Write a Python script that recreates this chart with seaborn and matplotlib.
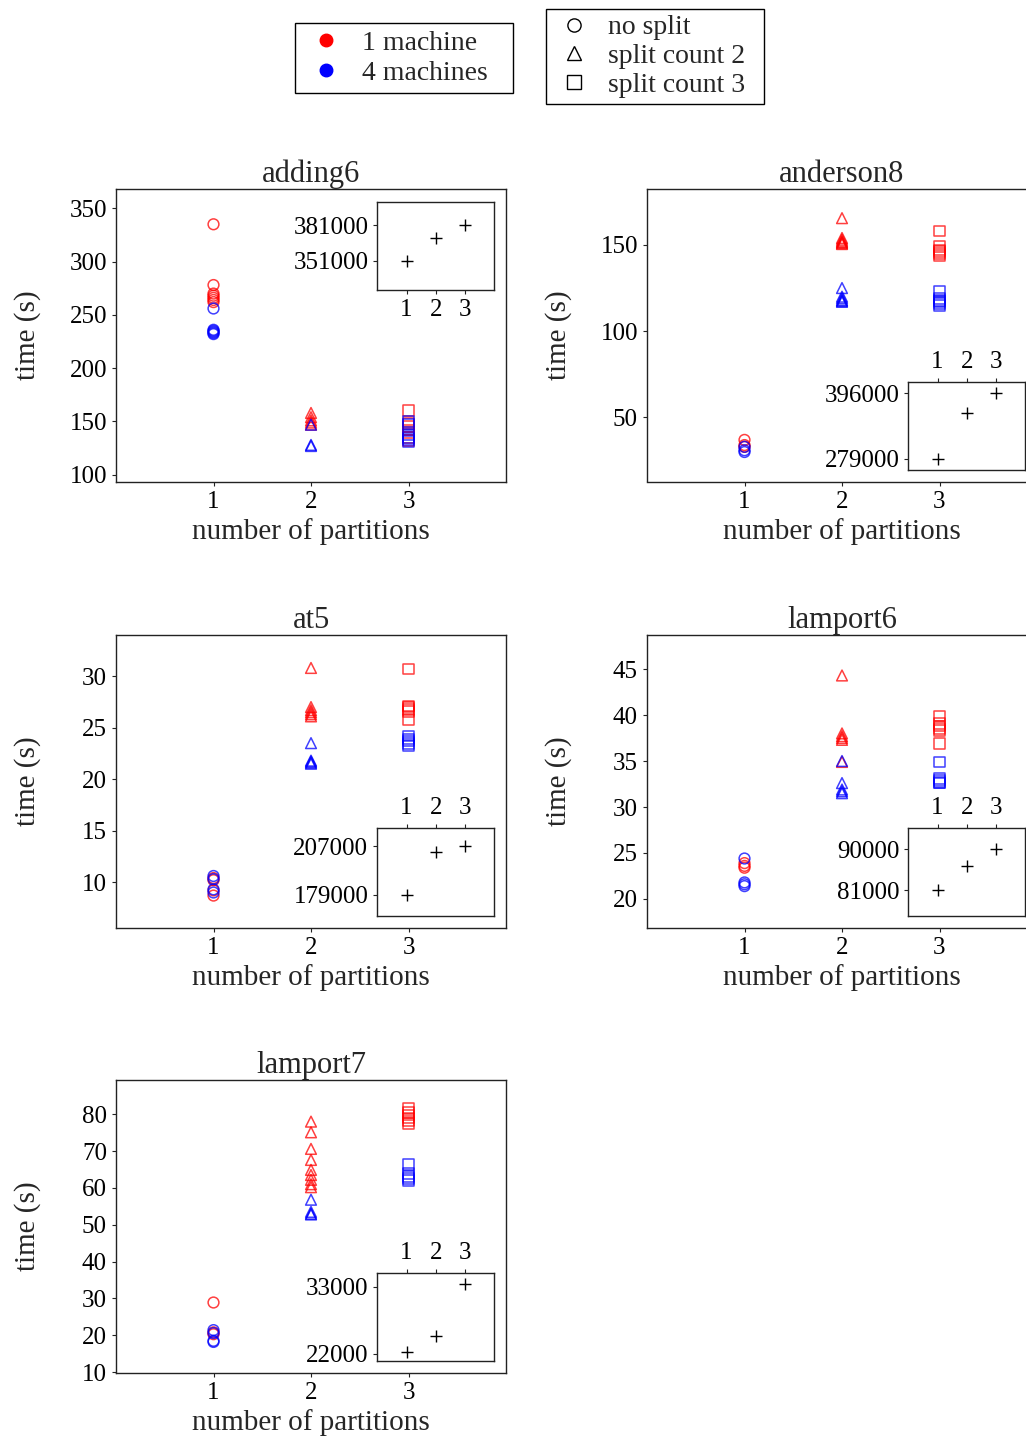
import numpy as np
import pandas as pd
import matplotlib
matplotlib.use("Agg")
import matplotlib.pyplot as plt
from matplotlib.lines import Line2D
import seaborn as sns

# ---------------- data ----------------
benchmarks = ["adding6", "anderson8", "at5", "lamport6", "lamport7"]
machine_labels = ["1 machine", "4 machines"]
split_labels = ["no split", "split count 2", "split count 3"]
inset_x = [1, 2, 3]

# adding6
adding6_1m_nosplit = [335, 278, 270, 268, 266, 264, 262]
adding6_4m_nosplit = [256, 236, 235, 234, 233, 232]
adding6_1m_split2 = [158, 154, 151, 149, 147]
adding6_4m_split2 = [147, 128, 127]
adding6_1m_split3 = [160, 148, 145, 142, 140, 135, 132]
adding6_4m_split3 = [150, 147, 138, 135, 133, 131]
adding6_inset = [351000, 369800, 381000]
adding6_inset_ticks = [351000, 381000]

# anderson8
anderson8_1m_nosplit = [37, 34, 33]
anderson8_4m_nosplit = [33, 31, 30]
anderson8_1m_split2 = [165.5, 154, 153, 152, 151.5, 151, 150.5]
anderson8_4m_split2 = [125, 120, 119, 118, 117.5, 117]
anderson8_1m_split3 = [158, 149, 147, 146, 145, 144]
anderson8_4m_split3 = [123, 119, 118, 117, 116, 115]
anderson8_inset = [279000, 360700, 396000]
anderson8_inset_ticks = [279000, 396000]

# at5
at5_1m_nosplit = [10.4, 10.2, 9.2, 8.7]
at5_4m_nosplit = [10.6, 10.3, 9.3, 9.0]
at5_1m_split2 = [30.8, 27.0, 26.7, 26.5, 26.3, 26.1]
at5_4m_split2 = [23.5, 21.8, 21.7, 21.6, 21.5]
at5_1m_split3 = [30.7, 27.1, 27.0, 26.8, 26.6, 25.8]
at5_4m_split3 = [24.2, 23.9, 23.7, 23.5, 23.3]
at5_inset = [179000, 203500, 207400]
at5_inset_ticks = [179000, 207000]

# lamport6
lamport6_1m_nosplit = [23.9, 23.6, 23.4]
lamport6_4m_nosplit = [24.4, 21.8, 21.6, 21.4]
lamport6_1m_split2 = [44.3, 38.0, 37.7, 37.5, 37.3, 34.9]
lamport6_4m_split2 = [35.0, 32.6, 31.9, 31.7, 31.5]
lamport6_1m_split3 = [39.9, 39.1, 38.8, 38.5, 38.3, 36.9]
lamport6_4m_split3 = [34.9, 33.1, 32.9, 32.7, 32.6]
lamport6_inset = [81000, 86400, 90000]
lamport6_inset_ticks = [81000, 90000]

# lamport7
lamport7_1m_nosplit = [28.9, 20.8, 20.3]
lamport7_4m_nosplit = [21.4, 20.6, 18.5, 18.2]
lamport7_1m_split2 = [78.0, 75.1, 70.6, 67.6, 64.9, 63.5, 62.2, 61.0, 60.2]
lamport7_4m_split2 = [56.8, 53.5, 53.0, 52.8]
lamport7_1m_split3 = [81.5, 80.5, 79.8, 79.0, 78.2, 77.4]
lamport7_4m_split3 = [66.3, 64.0, 63.2, 62.5, 62.0]
lamport7_inset = [22300, 24900, 33500]
lamport7_inset_ticks = [22000, 33000]

series = {
    "adding6": [adding6_1m_nosplit, adding6_1m_split2, adding6_1m_split3,
                adding6_4m_nosplit, adding6_4m_split2, adding6_4m_split3],
    "anderson8": [anderson8_1m_nosplit, anderson8_1m_split2, anderson8_1m_split3,
                  anderson8_4m_nosplit, anderson8_4m_split2, anderson8_4m_split3],
    "at5": [at5_1m_nosplit, at5_1m_split2, at5_1m_split3,
            at5_4m_nosplit, at5_4m_split2, at5_4m_split3],
    "lamport6": [lamport6_1m_nosplit, lamport6_1m_split2, lamport6_1m_split3,
                 lamport6_4m_nosplit, lamport6_4m_split2, lamport6_4m_split3],
    "lamport7": [lamport7_1m_nosplit, lamport7_1m_split2, lamport7_1m_split3,
                 lamport7_4m_nosplit, lamport7_4m_split2, lamport7_4m_split3],
}
insets = {
    "adding6": (adding6_inset, adding6_inset_ticks),
    "anderson8": (anderson8_inset, anderson8_inset_ticks),
    "at5": (at5_inset, at5_inset_ticks),
    "lamport6": (lamport6_inset, lamport6_inset_ticks),
    "lamport7": (lamport7_inset, lamport7_inset_ticks),
}

# ---------------- layout / style ----------------
ylims = {"adding6": (93.7, 368.1), "anderson8": (12.9, 182.4), "at5": (5.6, 34.0),
         "lamport6": (16.9, 48.7), "lamport7": (9.9, 89.3)}
yticks = {"adding6": np.arange(100, 351, 50), "anderson8": [50, 100, 150],
          "at5": np.arange(10, 31, 5), "lamport6": np.arange(20, 46, 5),
          "lamport7": np.arange(10, 81, 10)}
inset_ylims = {"adding6": (326600, 400300), "anderson8": (259300, 415700),
               "at5": (166800, 217600), "lamport6": (75400, 94600),
               "lamport7": (20800, 35260)}
inset_top = {"adding6": True, "anderson8": False, "at5": False,
             "lamport6": False, "lamport7": False}
positions = {"adding6": (116, 189), "anderson8": (647, 189), "at5": (116, 635),
             "lamport6": (647, 635), "lamport7": (116, 1080)}

sns.set_style("ticks")
plt.rcParams["font.family"] = ["Liberation Serif", "DejaVu Serif"]
plt.rcParams["axes.edgecolor"] = "#222222"
plt.rcParams["axes.linewidth"] = 1.0
plt.rcParams["xtick.color"] = "#222222"
plt.rcParams["ytick.color"] = "#222222"
plt.rcParams["xtick.labelcolor"] = "black"
plt.rcParams["ytick.labelcolor"] = "black"
plt.rcParams["xtick.major.size"] = 3
plt.rcParams["ytick.major.size"] = 3

W, H = 1026, 1438
fig = plt.figure(figsize=(W / 100, H / 100), dpi=100)

palette = {"1 machine": "red", "4 machines": "blue"}
markers = {"no split": "o", "split count 2": "^", "split count 3": "s"}
partition_of = {"no split": 1, "split count 2": 2, "split count 3": 3}

TICK_FS = 18
LABEL_FS = 21
TITLE_FS = 22

for name in benchmarks:
    rows = []
    groups = series[name]
    k = 0
    for m in machine_labels:
        for s in split_labels:
            for v in groups[k]:
                rows.append({"partitions": partition_of[s], "time": v,
                             "machines": m, "split": s})
            k += 1
    df = pd.DataFrame(rows)

    lx, ty = positions[name]
    w_px, h_px = 390, 292.5
    ax = fig.add_axes([lx / W, 1 - (ty + h_px) / H, w_px / W, h_px / H])
    sns.scatterplot(data=df, x="partitions", y="time", hue="machines", style="split",
                    palette=palette, markers=markers, s=60, alpha=0.75,
                    legend=False, ax=ax)
    for coll in ax.collections:
        fc = coll.get_facecolors()
        coll.set_edgecolors(fc)
        coll.set_facecolors("none")
        coll.set_linewidths(1.1)

    ax.set_xlim(0, 4)
    ax.set_xticks([1, 2, 3])
    ax.set_ylim(*ylims[name])
    ax.set_yticks(yticks[name])
    ax.tick_params(labelsize=TICK_FS)
    ax.set_xlabel("number of partitions", fontsize=LABEL_FS)
    ax.set_ylabel("time (s)", fontsize=LABEL_FS)
    ax.yaxis.set_label_coords(-0.192, 0.5)
    ax.set_title(name, fontsize=TITLE_FS, pad=4)

    # inset
    vals, iticks = insets[name]
    if inset_top[name]:
        rect = [0.67, 0.655, 0.30, 0.30]
    else:
        rect = [0.67, 0.04, 0.30, 0.30]
    iax = ax.inset_axes(rect)
    sns.scatterplot(x=inset_x, y=vals, marker="+", color="black", s=70,
                    linewidth=1.0, ax=iax, legend=False)
    iax.set_xlim(0, 4)
    iax.set_xticks([1, 2, 3])
    iax.set_ylim(*inset_ylims[name])
    iax.set_yticks(iticks)
    iax.set_yticklabels([str(t) for t in iticks])
    iax.tick_params(labelsize=TICK_FS)
    if not inset_top[name]:
        iax.xaxis.tick_top()
    iax.set_xlabel("")
    iax.set_ylabel("")

# ---------------- legends ----------------
LEG_FS = 20
h1 = [Line2D([], [], marker="o", color="red", linestyle="none", markersize=9),
      Line2D([], [], marker="o", color="blue", linestyle="none", markersize=9)]
leg1 = fig.legend(handles=h1, labels=machine_labels, loc="center",
                  bbox_to_anchor=(295 / W, 1 - 93 / H, 218 / W, 70 / H),
                  mode="expand", borderaxespad=0, frameon=True, fancybox=False,
                  edgecolor="black", framealpha=1, fontsize=LEG_FS,
                  handlelength=1.7, handletextpad=0.42, labelspacing=0.15,
                  borderpad=0.28)
leg1.get_frame().set_linewidth(1.0)

h2 = [Line2D([], [], marker=mk, color="black", markerfacecolor="none",
             linestyle="none", markersize=9.5, markeredgewidth=1.0)
      for mk in ["o", "^", "s"]]
leg2 = fig.legend(handles=h2, labels=split_labels, loc="center",
                  bbox_to_anchor=(546 / W, 1 - 106 / H, 218 / W, 99 / H),
                  mode="expand", borderaxespad=0, frameon=True, fancybox=False,
                  edgecolor="black", framealpha=1, fontsize=LEG_FS,
                  handlelength=1.6, handletextpad=0.42, labelspacing=0.12,
                  borderpad=0.22)
leg2.get_frame().set_linewidth(1.0)

fig.savefig("out.png", dpi=100)
